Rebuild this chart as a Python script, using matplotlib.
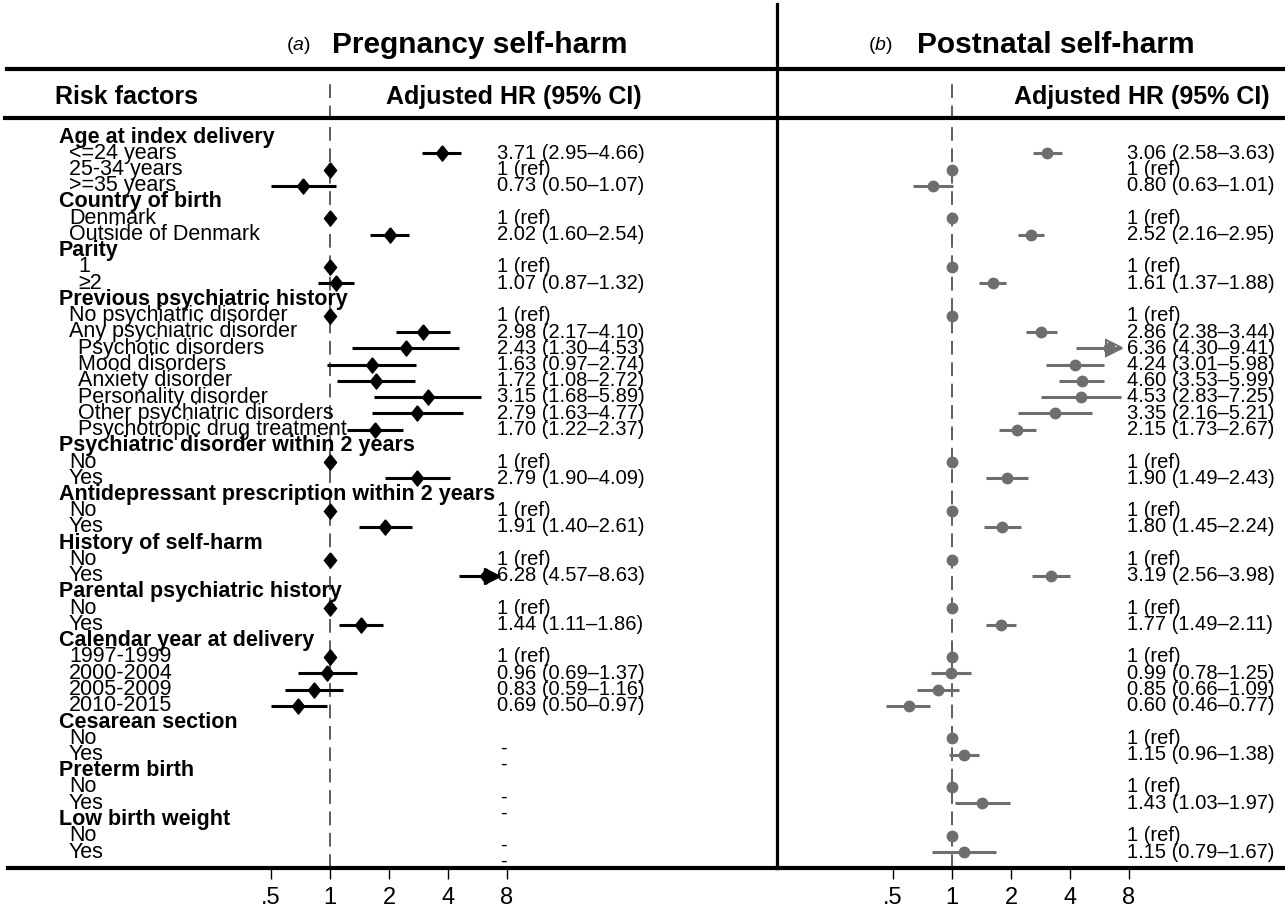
import numpy as np
import matplotlib.pyplot as plt
from matplotlib.lines import Line2D
from matplotlib.transforms import blended_transform_factory

plt.rcParams['font.family'] = ['Liberation Sans', 'DejaVu Sans']
plt.rcParams['mathtext.fontset'] = 'custom'
plt.rcParams['mathtext.it'] = 'Liberation Sans:italic'
plt.rcParams['mathtext.rm'] = 'Liberation Sans'

nan = np.nan

# Row labels (0 = section header, 1 = item, 2 = sub item)
row_labels = ['Age at index delivery', '<=24 years', '25-34 years', '>=35 years',
              'Country of birth', 'Denmark', 'Outside of Denmark',
              'Parity', '1', '≥2',
              'Previous psychiatric history', 'No psychiatric disorder', 'Any psychiatric disorder',
              'Psychotic disorders', 'Mood disorders', 'Anxiety disorder', 'Personality disorder',
              'Other psychiatric disorders', 'Psychotropic drug treatment',
              'Psychiatric disorder within 2 years', 'No', 'Yes',
              'Antidepressant prescription within 2 years', 'No', 'Yes',
              'History of self-harm', 'No', 'Yes',
              'Parental psychiatric history', 'No', 'Yes',
              'Calendar year at delivery', '1997-1999', '2000-2004', '2005-2009', '2010-2015',
              'Cesarean section', 'No', 'Yes',
              'Preterm birth', 'No', 'Yes',
              'Low birth weight', 'No', 'Yes']
row_level = [0, 1, 1, 1,
             0, 1, 1,
             0, 2, 2,
             0, 1, 1, 2, 2, 2, 2, 2, 2,
             0, 1, 1,
             0, 1, 1,
             0, 1, 1,
             0, 1, 1,
             0, 1, 1, 1, 1,
             0, 1, 1,
             0, 1, 1,
             0, 1, 1]

# (a) Pregnancy self-harm: hazard ratio and 95% CI (ref rows: hr = 1, no CI)
preg_hr = [nan, 3.71, 1, 0.73, nan, 1, 2.02, nan, 1, 1.07,
           nan, 1, 2.98, 2.43, 1.63, 1.72, 3.15, 2.79, 1.70,
           nan, 1, 2.79, nan, 1, 1.91, nan, 1, 6.28, nan, 1, 1.44,
           nan, 1, 0.96, 0.83, 0.69, nan, nan, nan, nan, nan, nan, nan, nan, nan]
preg_lo = [nan, 2.95, nan, 0.50, nan, nan, 1.60, nan, nan, 0.87,
           nan, nan, 2.17, 1.30, 0.97, 1.08, 1.68, 1.63, 1.22,
           nan, nan, 1.90, nan, nan, 1.40, nan, nan, 4.57, nan, nan, 1.11,
           nan, nan, 0.69, 0.59, 0.50, nan, nan, nan, nan, nan, nan, nan, nan, nan]
preg_hi = [nan, 4.66, nan, 1.07, nan, nan, 2.54, nan, nan, 1.32,
           nan, nan, 4.10, 4.53, 2.74, 2.72, 5.89, 4.77, 2.37,
           nan, nan, 4.09, nan, nan, 2.61, nan, nan, 8.63, nan, nan, 1.86,
           nan, nan, 1.37, 1.16, 0.97, nan, nan, nan, nan, nan, nan, nan, nan, nan]
preg_missing = [37, 38, 40, 41, 43, 44]   # rows shown as "-"

# (b) Postnatal self-harm
post_hr = [nan, 3.06, 1, 0.80, nan, 1, 2.52, nan, 1, 1.61,
           nan, 1, 2.86, 6.36, 4.24, 4.60, 4.53, 3.35, 2.15,
           nan, 1, 1.90, nan, 1, 1.80, nan, 1, 3.19, nan, 1, 1.77,
           nan, 1, 0.99, 0.85, 0.60, nan, 1, 1.15, nan, 1, 1.43, nan, 1, 1.15]
post_lo = [nan, 2.58, nan, 0.63, nan, nan, 2.16, nan, nan, 1.37,
           nan, nan, 2.38, 4.30, 3.01, 3.53, 2.83, 2.16, 1.73,
           nan, nan, 1.49, nan, nan, 1.45, nan, nan, 2.56, nan, nan, 1.49,
           nan, nan, 0.78, 0.66, 0.46, nan, nan, 0.96, nan, nan, 1.03, nan, nan, 0.79]
post_hi = [nan, 3.63, nan, 1.01, nan, nan, 2.95, nan, nan, 1.88,
           nan, nan, 3.44, 9.41, 5.98, 5.99, 7.25, 5.21, 2.67,
           nan, nan, 2.43, nan, nan, 2.24, nan, nan, 3.98, nan, nan, 2.11,
           nan, nan, 1.25, 1.09, 0.77, nan, nan, 1.38, nan, nan, 1.97, nan, nan, 1.67]

tick_vals = [0.5, 1, 2, 4, 8]
tick_labels = ['.5', '1', '2', '4', '8']
ci_clip = 7.3

W, H = 1285, 911
fig = plt.figure(figsize=(W / 100, H / 100), dpi=100)

def fx(px):
    return px / W

def fy(py):
    return 1 - py / H

# pixel layout
top_ax, bot_ax = 75, 868
row0, row_step = 137, 16.25
unit = 59  # pixels per doubling
n = len(row_labels)

def make_axes(x0, x1, x_one):
    ax = fig.add_axes([fx(x0), fy(bot_ax), fx(x1 - x0), (bot_ax - top_ax) / H])
    ax.set_xscale('log', base=2)
    ax.set_xlim(2 ** ((x0 - x_one) / unit), 2 ** ((x1 - x_one) / unit))
    ax.set_ylim((bot_ax - row0) / row_step, (top_ax - row0) / row_step)
    ax.patch.set_alpha(0)
    for s in ['top', 'left', 'right']:
        ax.spines[s].set_visible(False)
    ax.spines['bottom'].set_linewidth(3)
    ax.set_yticks([])
    ax.set_xticks(tick_vals)
    ax.set_xticklabels(tick_labels)
    ax.minorticks_off()
    ax.tick_params(axis='x', direction='out', length=8, width=1, labelsize=17, pad=6)
    ax.axvline(1, ymin=0, ymax=(bot_ax - 80) / (bot_ax - top_ax), color='#333333',
               lw=1.1, dashes=(9, 5))
    return ax

axL = make_axes(8, 777, 330)
axR = make_axes(777, 1285, 952)

def draw_panel(ax, hr, lo, hi, color, marker, ms, text_px, hollow_arrow):
    hr, lo, hi = np.array(hr), np.array(lo), np.array(hi)
    rows = np.arange(n)
    tr = blended_transform_factory(fig.transFigure, ax.transData)
    has_ci = ~np.isnan(lo)
    ax.hlines(rows[has_ci], lo[has_ci], np.minimum(hi[has_ci], ci_clip),
              color=color, lw=2.2, zorder=2)
    has_pt = ~np.isnan(hr)
    ax.plot(hr[has_pt], rows[has_pt], linestyle='none', marker=marker, ms=ms,
            color=color, mec=color, zorder=3)
    # arrow head for CIs running past the plotted range, tip at the clip value
    over = has_ci & (hi > ci_clip)
    head_x = np.full(over.sum(), ci_clip * 2 ** (-7 / unit))
    if hollow_arrow:
        ax.plot(head_x, rows[over], linestyle='none', marker='>',
                ms=11, mfc='none', mec=color, mew=1.5, zorder=4)
    else:
        ax.plot(head_x, rows[over], linestyle='none', marker='>',
                ms=11, color=color, zorder=4)
    for r in rows[has_pt]:
        if np.isnan(lo[r]):
            s = '1 (ref)'
        else:
            s = f'{hr[r]:.2f} ({lo[r]:.2f}–{hi[r]:.2f})'
        ax.text(fx(text_px), r, s, transform=tr, ha='left', va='center', fontsize=14.5)

diamond = [(0, 1), (0.8, 0), (0, -1), (-0.8, 0), (0, 1)]
draw_panel(axL, preg_hr, preg_lo, preg_hi, 'black', diamond, 11, 497, False)
draw_panel(axR, post_hr, post_lo, post_hi, '#6e6e6e', 'o', 7.5, 1127, True)

trL = blended_transform_factory(fig.transFigure, axL.transData)
for r in preg_missing:
    axL.text(fx(500), r + 0.6, '-', transform=trL, ha='left', va='center', fontsize=14.5)

indent = [59, 69, 78]
for r, (lab, lev) in enumerate(zip(row_labels, row_level)):
    axL.text(fx(indent[lev]), r, lab, transform=trL, ha='left', va='center',
             fontsize=15.5, fontweight='bold' if lev == 0 else 'normal')

# titles and header row
fig.text(fx(286), fy(46), r'($\it{a}$)', fontsize=14, va='center')
fig.text(fx(332), fy(45), 'Pregnancy self-harm', fontsize=21.5, fontweight='bold', va='center')
fig.text(fx(868), fy(46), r'($\it{b}$)', fontsize=14, va='center')
fig.text(fx(917), fy(45), 'Postnatal self-harm', fontsize=21.5, fontweight='bold', va='center')
fig.text(fx(55), fy(97), 'Risk factors', fontsize=18, fontweight='bold', va='center')
fig.text(fx(642), fy(97), 'Adjusted HR (95% CI)', fontsize=18, fontweight='bold',
         va='center', ha='right')
fig.text(fx(1270), fy(97), 'Adjusted HR (95% CI)', fontsize=18, fontweight='bold',
         va='center', ha='right')

# table rules
fig.add_artist(Line2D([fx(7), fx(1285)], [fy(69), fy(69)], color='black', lw=3))
fig.add_artist(Line2D([fx(5), fx(1285)], [fy(118), fy(118)], color='black', lw=3))
fig.add_artist(Line2D([fx(777), fx(777)], [fy(4), fy(bot_ax)], color='black', lw=2.3))

fig.savefig('out.png', dpi=100)
